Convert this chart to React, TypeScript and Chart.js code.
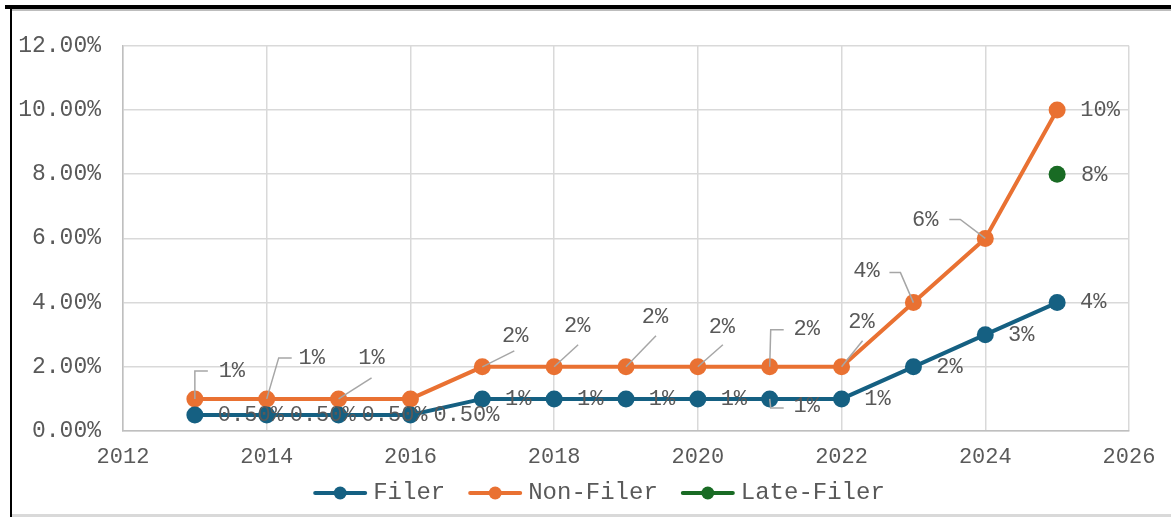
import React, { useEffect, useRef } from "react";
import { Chart, registerables } from "chart.js";

Chart.register(...registerables);

// ---------- data ----------
const years = [2013, 2014, 2015, 2016, 2017, 2018, 2019, 2020, 2021, 2022, 2023, 2024, 2025];
const filerValues = [0.5, 0.5, 0.5, 0.5, 1, 1, 1, 1, 1, 1, 2, 3, 4];
const nonFilerValues = [1, 1, 1, 1, 2, 2, 2, 2, 2, 2, 4, 6, 10];
const lateFilerYears = [2025];
const lateFilerValues = [8];

const filerLabels = ["0.50%", "0.50%", "0.50%", "0.50%", "1%", "1%", "1%", "1%", "1%", "1%", "2%", "3%", "4%"];
const nonFilerLabels = ["1%", "1%", "1%", "", "2%", "2%", "2%", "2%", "2%", "2%", "4%", "6%", "10%"];
const lateFilerLabels = ["8%"];

const seriesNames = ["Filer", "Non-Filer", "Late-Filer"];
const xMin = 2012, xMax = 2026, xStep = 2;
const yMin = 0, yMax = 12, yStep = 2;

// ---------- styling ----------
const COLORS = ["#156082", "#E97132", "#196B24"];
const TEXT = "#595959";
const GRID = "#d9d9d9";
const LEADER = "#a6a6a6";
const FONT = "'Liberation Mono', 'Courier New', monospace";

type Place = { dx: number; dy: number; leader?: number[][] };
const R: Place = { dx: 36, dy: 0 };
const filerPlacement: Place[] = [
  { dx: 56, dy: 0 }, { dx: 56, dy: 0 }, { dx: 56, dy: 0 }, { dx: 56, dy: 0 },
  R, R, R, R,
  { dx: 37, dy: 7, leader: [[1, 9], [14, 9]] },
  R, R, R, R,
];
const nonFilerPlacement: Place[] = [
  { dx: 37, dy: -28, leader: [[0, -28], [13, -28]] },
  { dx: 45, dy: -41, leader: [[12, -41], [25, -41]] },
  { dx: 33, dy: -41, leader: [[33, -21]] },
  { dx: 0, dy: 0 },
  { dx: 33, dy: -31, leader: [[32, -16]] },
  { dx: 23, dy: -41, leader: [[24, -22]] },
  { dx: 29, dy: -50, leader: [[30, -31]] },
  { dx: 24, dy: -40, leader: [[25, -22]] },
  { dx: 37, dy: -38, leader: [[1, -37], [14, -37]] },
  { dx: 20, dy: -45, leader: [[21, -26]] },
  { dx: -47, dy: -31, leader: [[-13, -30], [-24, -30]] },
  { dx: -60, dy: -18, leader: [[-25, -19], [-36, -19]] },
  { dx: 43, dy: 0 },
];
const latePlacement: Place[] = [{ dx: 37, dy: 1 }];

const labelSets = [filerLabels, nonFilerLabels, lateFilerLabels];
const placementSets = [filerPlacement, nonFilerPlacement, latePlacement];

const labelPlugin = {
  id: "pointLabels",
  afterDatasetsDraw(chart: any) {
    const ctx = chart.ctx as CanvasRenderingContext2D;
    ctx.save();
    chart.data.datasets.forEach((_ds: any, di: number) => {
      const meta = chart.getDatasetMeta(di);
      meta.data.forEach((el: any, i: number) => {
        const t = labelSets[di][i];
        if (!t) return;
        const p = placementSets[di][i];
        const x = el.x, y = el.y;
        if (p.leader) {
          ctx.beginPath();
          ctx.strokeStyle = LEADER;
          ctx.lineWidth = 1.5;
          ctx.moveTo(x, y);
          p.leader.forEach(([lx, ly]) => ctx.lineTo(x + lx, y + ly));
          ctx.stroke();
        }
        ctx.fillStyle = TEXT;
        ctx.font = `22px ${FONT}`;
        ctx.textAlign = "center";
        ctx.textBaseline = "middle";
        ctx.fillText(t, x + p.dx, y + p.dy);
      });
    });
    ctx.restore();
  },
};

// legend: line + marker swatch, then text, centred below the x axis
const legendPlugin = {
  id: "lineLegend",
  afterDraw(chart: any) {
    const ctx = chart.ctx as CanvasRenderingContext2D;
    ctx.save();
    ctx.font = `24px ${FONT}`;
    const SW = 54, GAP = 6, ITEM_GAP = 23;
    const items = chart.data.datasets.map((ds: any) => ({
      text: ds.label as string,
      color: ds.borderColor as string,
      w: SW + GAP + ctx.measureText(ds.label).width,
    }));
    const total = items.reduce((s: number, it: any) => s + it.w, 0) + ITEM_GAP * (items.length - 1);
    let x = chart.width / 2 + 8 - total / 2;
    const y = chart.scales.x.bottom + 23;
    items.forEach((it: any) => {
      ctx.strokeStyle = it.color;
      ctx.lineWidth = 4;
      ctx.lineCap = "round";
      ctx.beginPath();
      ctx.moveTo(x + 2, y);
      ctx.lineTo(x + SW - 2, y);
      ctx.stroke();
      ctx.fillStyle = it.color;
      ctx.beginPath();
      ctx.arc(x + SW / 2, y, 6.5, 0, Math.PI * 2);
      ctx.fill();
      ctx.fillStyle = TEXT;
      ctx.textAlign = "left";
      ctx.textBaseline = "middle";
      ctx.fillText(it.text, x + SW + GAP, y);
      x += it.w + ITEM_GAP;
    });
    ctx.restore();
  },
};

export default function App() {
  const ref = useRef<HTMLCanvasElement>(null);
  useEffect(() => {
    const mk = (xs: number[], ys: number[]) => xs.map((x, i) => ({ x, y: ys[i] }));
    const chart = new Chart(ref.current!, {
      type: "scatter",
      data: {
        datasets: [
          { label: seriesNames[0], data: mk(years, filerValues), showLine: true },
          { label: seriesNames[1], data: mk(years, nonFilerValues), showLine: true },
          { label: seriesNames[2], data: mk(lateFilerYears, lateFilerValues), showLine: true },
        ].map((d, i) => ({
          ...d,
          borderColor: COLORS[i],
          backgroundColor: COLORS[i],
          borderWidth: 4,
          pointRadius: 8.5,
          pointHoverRadius: 8.5,
          pointBorderWidth: 0,
          tension: 0,
        })),
      },
      options: {
        responsive: false,
        animation: false,
        layout: { padding: { left: 0, right: 42, top: 34, bottom: 44 } },
        scales: {
          x: {
            type: "linear",
            min: xMin,
            max: xMax,
            afterFit: (s: any) => { s.height = 39; },
            ticks: {
              stepSize: xStep,
              padding: 13,
              color: TEXT,
              font: { family: FONT, size: 22 },
              callback: (v: any) => String(v),
            },
            grid: { color: GRID, lineWidth: 1.5, drawTicks: false },
            border: { color: "#bfbfbf", width: 1.5 },
          },
          y: {
            min: yMin,
            max: yMax,
            afterFit: (s: any) => { s.width = 112; },
            ticks: {
              stepSize: yStep,
              padding: 22,
              color: TEXT,
              font: { family: FONT, size: 23 },
              callback: (v: any) => Number(v).toFixed(2) + "%",
            },
            grid: { color: GRID, lineWidth: 1.5, drawTicks: false },
            border: { color: "#bfbfbf", width: 1.5 },
          },
        },
        plugins: {
          tooltip: { enabled: false },
          legend: { display: false },
        },
      },
      plugins: [labelPlugin, legendPlugin],
    } as any);
    return () => chart.destroy();
  }, []);

  return (
    <div style={{ position: "fixed", left: 0, top: 0, width: 1171, height: 517, background: "#fff", overflow: "hidden" }}>
      <div style={{ position: "absolute", left: 5, top: 5, width: 1166, height: 4, background: "#000" }} />
      <div style={{ position: "absolute", left: 10, top: 9, width: 1161, height: 1.5, background: "#bdbdbd" }} />
      <div style={{ position: "absolute", left: 10, top: 9, width: 2, height: 508, background: "#000" }} />
      <div style={{ position: "absolute", left: 12, top: 514, width: 1159, height: 3, background: "#d9d9d9" }} />
      <canvas
        ref={ref}
        width={1160}
        height={504}
        style={{ position: "absolute", left: 11, top: 10, width: 1160, height: 504, display: "block" }}
      />
    </div>
  );
}
